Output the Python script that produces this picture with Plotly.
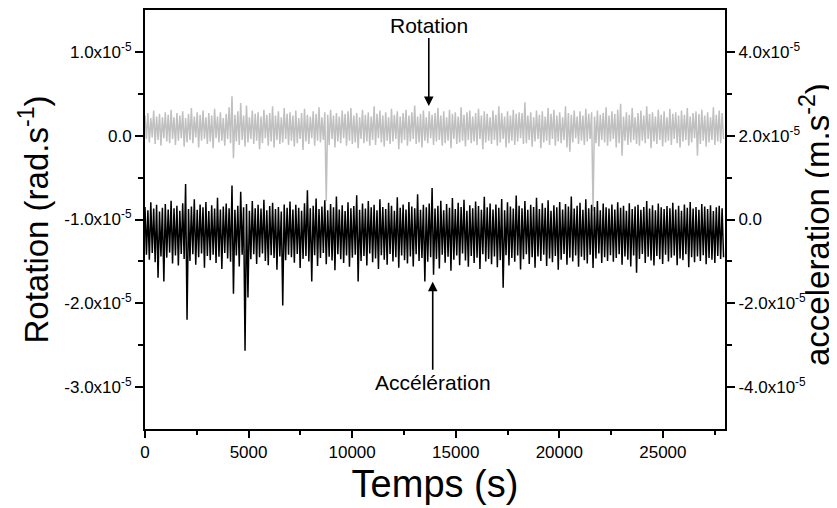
import plotly.graph_objects as go

# pas d'échantillonnage (s)
pas_temps = 70

# rotation, en 1e-7 rad/s (axe gauche)
rotation = [
    24, -4, 27, -8, 21, -2, 30, -10, 23, -5, 26, -12, 22, -3, 28, -7, 25, -9, 31, -4,
    22, -11, 27, -6, 24, -3, 29, -13, 21, -8, 26, -5, 33, -9, 23, -2, 28, -14, 25, -6,
    30, -4, 22, -10, 27, -7, 24, -15, 32, -3, 23, -8, 28, -6, 21, -12, 26, -4, 34, -9,
    47, -27, 25, -7, 29, -11, 39, -5, 24, -13, 36, -8, 22, -4, 30, -10, 26, -6, 28, -16,
    23, -9, 31, -3, 25, -12, 27, -7, 35, -14, 24, -5, 29, -10, 22, -8, 33, -4, 26, -11,
    28, -6, 24, -13, 30, -9, 21, -4, 27, -17, 32, -7, 25, -10, 23, -3, 29, -12, 26, -6,
    34, -8, 22, -5, 28, -78, 25, -11, 31, -4, 24, -14, 27, -7, 23, -9, 30, -3, 26, -12,
    29, -6, 33, -10, 24, -8, 27, -15, 22, -4, 31, -9, 25, -7, 28, -12, 23, -5, 35, -11,
    26, -3, 30, -8, 24, -13, 28, -6, 22, -10, 32, -7, 25, -4, 29, -16, 23, -9, 27, -5,
    31, -12, 24, -7, 28, -4, 36, -10, 23, -8, 26, -14, 30, -6, 22, -9, 29, -3, 25, -11,
    27, -7, 33, -5, 24, -12, 29, -9, 22, -6, 31, -15, 26, -4, 28, -10, 23, -8, 34, -6,
    25, -13, 28, -5, 30, -9, 23, -7, 27, -11, 32, -4, 24, -16, 29, -8, 26, -6, 22, -10,
    30, -5, 25, -12, 35, -8, 27, -4, 23, -14, 29, -9, 24, -6, 31, -11, 26, -7, 28, -3,
    27, -10, 40, -9, 24, -5, 28, -13, 22, -7, 30, -4, 25, -15, 29, -8, 23, -6, 33, -11,
    26, -4, 31, -12, 24, -7, 28, -9, 22, -5, 35, -14, 27, -19, 25, -8, 30, -3, 23, -10,
    29, -6, 24, -11, 32, -7, 26, -4, 28, -90, 23, -9, 30, -13, 25, -5, 27, -8, 34, -12,
    24, -7, 29, -4, 26, -14, 31, -9, 38, -24, 23, -6, 28, -11, 25, -8, 33, -5, 22, -10,
    27, -12, 30, -6, 24, -9, 35, -4, 26, -15, 28, -7, 23, -10, 31, -5, 25, -13, 29, -8,
    22, -6, 32, -11, 26, -4, 28, -9, 24, -14, 30, -7, 25, -5, 33, -12, 23, -8, 27, -3,
    29, -24, 26, -10, 31, -6, 24, -13, 28, -8, 22, -5, 34, -11, 25, -7, 30, -9, 27, -4,
]

# accélération, en 1e-7 m/s² (axe droit)
acceleration = [
    30, -84, 22, -96, 41, -80, 26, -102, 35, -139, 19, -88, 28, -148, 37, -91, 24, -79, 45, -105,
    27, -86, 33, -110, 21, -82, 39, -94, 85, -239, 25, -99, 31, -83, 48, -108, 23, -90, 36, -81,
    29, -115, 42, -87, 20, -97, 34, -84, 26, -104, 52, -89, 24, -118, 31, -80, 38, -93, 27, -101,
    81, -177, 23, -86, 33, -112, 66, -84, 29, -313, 37, -186, 21, -95, 44, -83, 27, -106, 35, -90,
    26, -81, 47, -99, 22, -109, 32, -85, 40, -92, 25, -120, 30, -88, 19, -205, 36, -97, 28, -84,
    43, -90, 24, -103, 35, -82, 28, -116, 21, -94, 39, -87, 70, -100, 27, -148, 33, -85, 50, -111,
    25, -92, 31, -80, 46, -107, 22, -89, 37, -98, 29, -121, 55, -83, 24, -95, 34, -104, 20, -86,
    41, -113, 27, -91, 32, -84, 58, -148, 23, -99, 38, -87, 26, -110, 44, -81, 29, -102, 35, -93,
    22, -118, 48, -85, 30, -96, 25, -108, 40, -82, 33, -100, 21, -90, 53, -115, 28, -86, 36, -97,
    24, -105, 42, -88, 31, -112, 27, -83, 60, -99, 23, -92, 35, -148, 29, -101, 38, -90, 75, -132,
    26, -94, 33, -117, 45, -84, 22, -103, 37, -89, 28, -122, 51, -96, 25, -86, 40, -109, 30, -81,
    47, -98, 21, -113, 34, -87, 27, -104, 43, -91, 32, -118, 23, -83, 54, -100, 29, -94, 38, -107,
    24, -88, 36, -114, 28, -97, 49, -163, 22, -85, 41, -110, 31, -92, 26, -101, 57, -86, 33, -119,
    27, -95, 44, -83, 23, -106, 35, -90, 30, -115, 52, -88, 25, -99, 39, -84, 28, -111, 46, -93,
    21, -102, 34, -87, 29, -120, 42, -96, 24, -82, 37, -108, 31, -91, 55, -100, 26, -86, 33, -113,
    40, -89, 23, -97, 48, -105, 27, -84, 35, -116, 30, -93, 44, -81, 22, -104, 38, -90, 29, -99,
    26, -85, 36, -101, 24, -92, 41, -83, 28, -108, 33, -88, 21, -96, 39, -112, 25, -86, 31, -127,
    35, -94, 23, -82, 30, -104, 44, -89, 26, -98, 34, -110, 22, -87, 38, -95, 29, -106, 25, -84,
    32, -100, 27, -91, 40, -86, 24, -109, 33, -93, 21, -97, 36, -83, 28, -114, 42, -90, 26, -102,
    30, -88, 23, -99, 37, -85, 31, -107, 25, -92, 34, -96, 20, -104, 29, -87, 33, -94, 27, -90,
]

ticks_temps = [0, 5000, 10000, 15000, 20000, 25000]
labels_temps = ["0", "5000", "10000", "15000", "20000", "25000"]
ticks_rotation = [-3e-5, -2e-5, -1e-5, 0, 1e-5]
labels_rotation = ["-3.0x10<sup>-5</sup>", "-2.0x10<sup>-5</sup>", "-1.0x10<sup>-5</sup>",
                   "0.0", "1.0x10<sup>-5</sup>"]
ticks_accel = [-4e-5, -2e-5, 0, 2e-5, 4e-5]
labels_accel = ["-4.0x10<sup>-5</sup>", "-2.0x10<sup>-5</sup>", "0.0",
                "2.0x10<sup>-5</sup>", "4.0x10<sup>-5</sup>"]

police = "Liberation Sans, Arial, sans-serif"

fig = go.Figure()

fig.add_trace(go.Scatter(
    x0=0, dx=pas_temps,
    y=[v * 1e-7 for v in rotation],
    mode="lines",
    line=dict(color="#c0c0c0", width=1.5),
    yaxis="y",
))

fig.add_trace(go.Scatter(
    x0=0, dx=pas_temps,
    y=[v * 1e-7 for v in acceleration],
    mode="lines",
    line=dict(color="black", width=1.5),
    yaxis="y2",
))

axe_commun = dict(
    showline=True, linecolor="black", linewidth=2,
    ticks="outside", tickcolor="black", tickwidth=2,
    showgrid=False, zeroline=False, automargin=False,
)

# la page ajoute 8 px de marge autour de la figure
fig.update_layout(
    width=829,
    height=500,
    margin=dict(l=137, r=112, t=2, b=79),
    plot_bgcolor="white",
    paper_bgcolor="white",
    showlegend=False,
    font=dict(family=police, size=17, color="black"),
    xaxis=dict(
        **axe_commun,
        range=[0, 28000],
        mirror=True,
        ticklen=7,
        tickvals=ticks_temps,
        ticktext=labels_temps,
        minor=dict(tickvals=[2500, 7500, 12500, 17500, 22500, 27500],
                   ticks="outside", ticklen=4, tickcolor="black", tickwidth=2),
        title=dict(text="Temps (s)", font=dict(size=38), standoff=9),
    ),
    yaxis=dict(
        **axe_commun,
        range=[-3.5e-5, 1.5e-5],
        ticklen=8,
        tickvals=ticks_rotation,
        ticktext=labels_rotation,
        minor=dict(tickvals=[-2.5e-5, -1.5e-5, -0.5e-5, 0.5e-5],
                   ticks="outside", ticklen=5, tickcolor="black", tickwidth=2),
        title=dict(text="Rotation (rad.s<sup>-1</sup>)", font=dict(size=33), standoff=6),
    ),
    yaxis2=dict(
        **axe_commun,
        overlaying="y",
        side="right",
        range=[-5e-5, 5e-5],
        ticklen=8,
        tickvals=ticks_accel,
        ticktext=labels_accel,
        minor=dict(tickvals=[-3e-5, -1e-5, 1e-5, 3e-5],
                   ticks="outside", ticklen=5, tickcolor="black", tickwidth=2),
    ),
)

# titre de l'axe droit
fig.add_annotation(
    x=1.155, y=0.489, xref="paper", yref="paper",
    text="acceleration (m.s<sup>-2</sup>)", font=dict(size=33),
    textangle=-90, showarrow=False,
    xanchor="center", yanchor="middle",
)

fig.add_annotation(
    x=13700, y=0.354e-5, xref="x", yref="y",
    text="Rotation", font=dict(size=21),
    showarrow=True, ax=0, ay=-81,
    arrowhead=2, arrowsize=1.2, arrowwidth=1.6, arrowcolor="black",
)

fig.add_annotation(
    x=13890, y=-1.483e-5, xref="x", yref="y2",
    text="Accélération", font=dict(size=21),
    showarrow=True, ax=0, ay=101,
    arrowhead=2, arrowsize=1.2, arrowwidth=1.6, arrowcolor="black",
)

fig.write_html("out.html")
